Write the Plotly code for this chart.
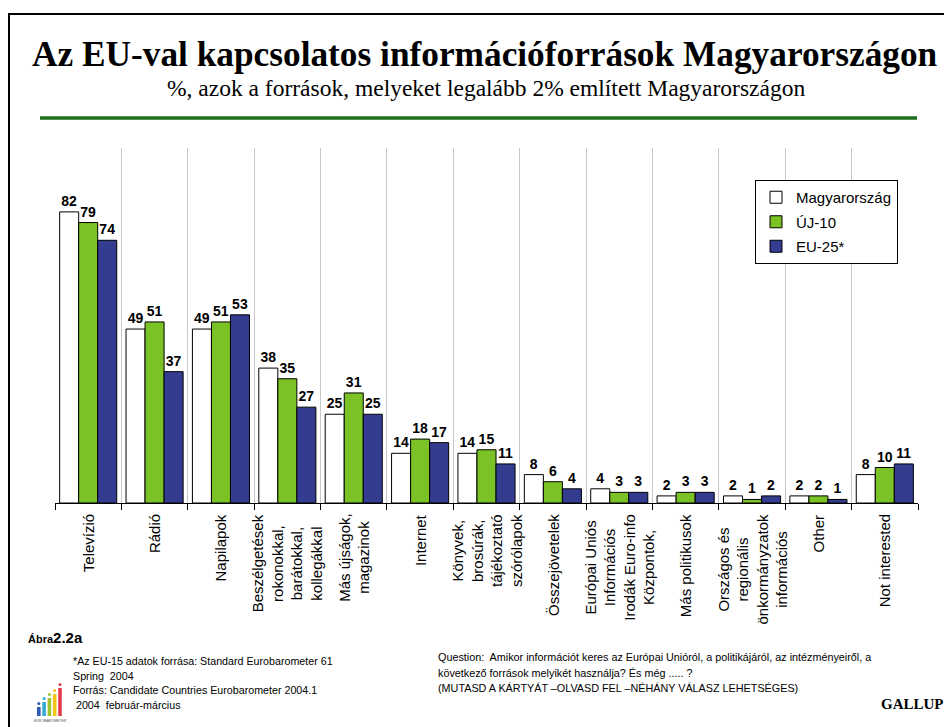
import plotly.graph_objects as go

# ---------------- data ----------------
categories = [
    "Televízió",
    "Rádió",
    "Napilapok",
    "Beszélgetések<br>rokonokkal,<br>barátokkal,<br>kollegákkal",
    "Más újságok,<br>magazinok",
    "Internet",
    "Könyvek,<br>brosúrák,<br>tájékoztató<br>szórólapok",
    "Összejövetelek",
    "Európai Uniós<br>Információs<br>Irodák Euro-info<br>Központok,",
    "Más politikusok",
    "Országos és<br>regionális<br>önkormányzatok<br>információs",
    "Other",
    "Not interested",
]
series_names = ["Magyarország", "ÚJ-10", "EU-25*"]
magyarorszag = [82, 49, 49, 38, 25, 14, 14, 8, 4, 2, 2, 2, 8]
uj10 = [79, 51, 51, 35, 31, 18, 15, 6, 3, 3, 1, 2, 10]
eu25 = [74, 37, 53, 27, 25, 17, 11, 4, 3, 3, 2, 1, 11]
series_values = [magyarorszag, uj10, eu25]
series_colors = ["#FFFFFF", "#7AC225", "#343C90"]

title_text = "Az EU-val kapcsolatos információforrások Magyarországon"
subtitle_text = "%, azok a források, melyeket legalább 2% említett Magyarországon"
figure_label = "<b><span style='font-size:11px'>Ábra</span>2.2a</b>"
footnote_lines = [
    "*Az EU-15 adatok forrása: Standard Eurobarometer 61",
    "Spring  2004",
    "Forrás: Candidate Countries Eurobarometer 2004.1",
    " 2004  február-március",
]
question_lines = [
    "Question:  Amikor információt keres az Európai Unióról, a politikájáról, az intézményeiről, a",
    "következő források melyikét használja? És még ..... ?",
    "(MUTASD A KÁRTYÁT –OLVASD FEL –NÉHÁNY VÁLASZ LEHETSÉGES)",
]
brand_text = "GALLUP"
logo_colors = ["#2C5BB5", "#35A9D6", "#9CC530", "#F2C318", "#E23B4B"]
logo_heights = [9, 14, 18, 22, 28]

# ---------------- geometry (page pixels; the page body adds an 8px offset) ----------------
OFF = 8
W, H = 952 - OFF, 727 - OFF
P_LEFT, P_RIGHT, P_TOP, P_BOTTOM = 55, 918, 148, 503
ML = P_LEFT - OFF
MT = P_TOP - OFF
MR = W - (P_RIGHT - OFF)
MB = H - (P_BOTTOM - OFF)
PW, PH = P_RIGHT - P_LEFT, P_BOTTOM - P_TOP


def px(x):
    return (x - P_LEFT) / PW


def py(y):
    return (P_BOTTOM - y) / PH


SANS = "Liberation Sans, Arial, sans-serif"
SERIF = "Liberation Serif, Times New Roman, serif"

fig = go.Figure()
for name, vals, col in zip(series_names, series_values, series_colors):
    fig.add_trace(go.Bar(
        x=categories, y=vals, name=name, legendgroup=name,
        marker=dict(color=col, line=dict(color="#000000", width=1)),
        texttemplate="%{y}", textposition="outside", constraintext="none",
        textfont=dict(family=SANS, size=14, color="#000000", weight="bold"),
        cliponaxis=False,
    ))

annotations = []
# category labels (rotated, centred lines)
for cat in categories:
    annotations.append(dict(
        x=cat, xref="x", y=py(512), yref="paper", text=cat, showarrow=False,
        textangle=-90, xanchor="center", yanchor="top", align="center",
        font=dict(family=SANS, size=15, color="#000000"),
    ))

annotations += [
    dict(x=px(485), y=py(55), xref="paper", yref="paper", text="<b>" + title_text + "</b>",
         showarrow=False, xanchor="center", yanchor="middle",
         font=dict(family=SERIF, size=35.3, color="#000000")),
    dict(x=px(486), y=py(88), xref="paper", yref="paper", text=subtitle_text,
         showarrow=False, xanchor="center", yanchor="middle",
         font=dict(family=SERIF, size=23.5, color="#000000")),
    dict(x=px(26), y=py(637), xref="paper", yref="paper", text=figure_label,
         showarrow=False, xanchor="left", yanchor="middle",
         font=dict(family=SANS, size=15, color="#000000")),
    dict(x=px(946), y=py(704), xref="paper", yref="paper", text="<b>" + brand_text + "</b>",
         showarrow=False, xanchor="right", yanchor="middle",
         font=dict(family=SERIF, size=15, color="#000000")),
]
for i, line in enumerate(footnote_lines):
    annotations.append(dict(x=px(71), y=py(661 + i * 14.6), xref="paper", yref="paper", text=line,
                            showarrow=False, xanchor="left", yanchor="middle", align="left",
                            font=dict(family=SANS, size=10.7, color="#000000")))
for i, line in enumerate(question_lines):
    annotations.append(dict(x=px(436), y=py(657 + i * 15.5), xref="paper", yref="paper", text=line,
                            showarrow=False, xanchor="left", yanchor="middle", align="left",
                            font=dict(family=SANS, size=10.8, color="#000000")))

shapes = [
    # frame
    dict(type="line", xref="paper", yref="paper", x0=px(8), x1=px(952), y0=py(14), y1=py(14),
         line=dict(color="#000000", width=2)),
    dict(type="line", xref="paper", yref="paper", x0=px(9), x1=px(9), y0=py(13), y1=py(727),
         line=dict(color="#000000", width=2)),
    # green rule
    dict(type="line", xref="paper", yref="paper", x0=px(40), x1=px(917), y0=py(118), y1=py(118),
         line=dict(color="#1E6E1E", width=3.5)),
]
# small logo
for i, (c, h) in enumerate(zip(logo_colors, logo_heights)):
    x0 = 37 + i * 5.3
    shapes.append(dict(type="rect", xref="paper", yref="paper",
                       x0=px(x0), x1=px(x0 + 3.6), y0=py(716), y1=py(716 - h),
                       line=dict(width=0), fillcolor=c))
    shapes.append(dict(type="circle", xref="paper", yref="paper",
                       x0=px(x0 + 0.3), x1=px(x0 + 3.3), y0=py(716 - h - 5), y1=py(716 - h - 2),
                       line=dict(width=0), fillcolor=c))
annotations.append(dict(x=px(50), y=py(721), xref="paper", yref="paper", text="EUROBAROMETER",
                        showarrow=False, xanchor="center", yanchor="middle",
                        font=dict(family=SANS, size=3.5, color="#555555")))

fig.update_layout(
    width=W, height=H,
    margin=dict(l=ML, r=MR, t=MT, b=MB, pad=0),
    paper_bgcolor="#FFFFFF", plot_bgcolor="#FFFFFF",
    barmode="group", bargap=0.14, bargroupgap=0,
    showlegend=True,
    legend=dict(x=px(755), y=py(180), xanchor="left", yanchor="top",
                bgcolor="#FFFFFF", bordercolor="#000000", borderwidth=1,
                font=dict(family=SANS, size=15, color="#000000"),
                traceorder="grouped", tracegroupgap=2, itemwidth=30),
    xaxis=dict(type="category", tickson="boundaries", ticks="outside", ticklen=6,
               tickcolor="#000000", showgrid=True, gridcolor="#C8C8C8", gridwidth=1,
               showline=True, linecolor="#000000", linewidth=1, showticklabels=False,
               range=[-0.5, len(categories) - 0.5], fixedrange=True),
    yaxis=dict(range=[0, 100], showgrid=False, showticklabels=False, zeroline=False,
               showline=False, fixedrange=True),
    annotations=annotations,
    shapes=shapes,
    font=dict(family=SANS),
)

fig.write_html("out.html")
